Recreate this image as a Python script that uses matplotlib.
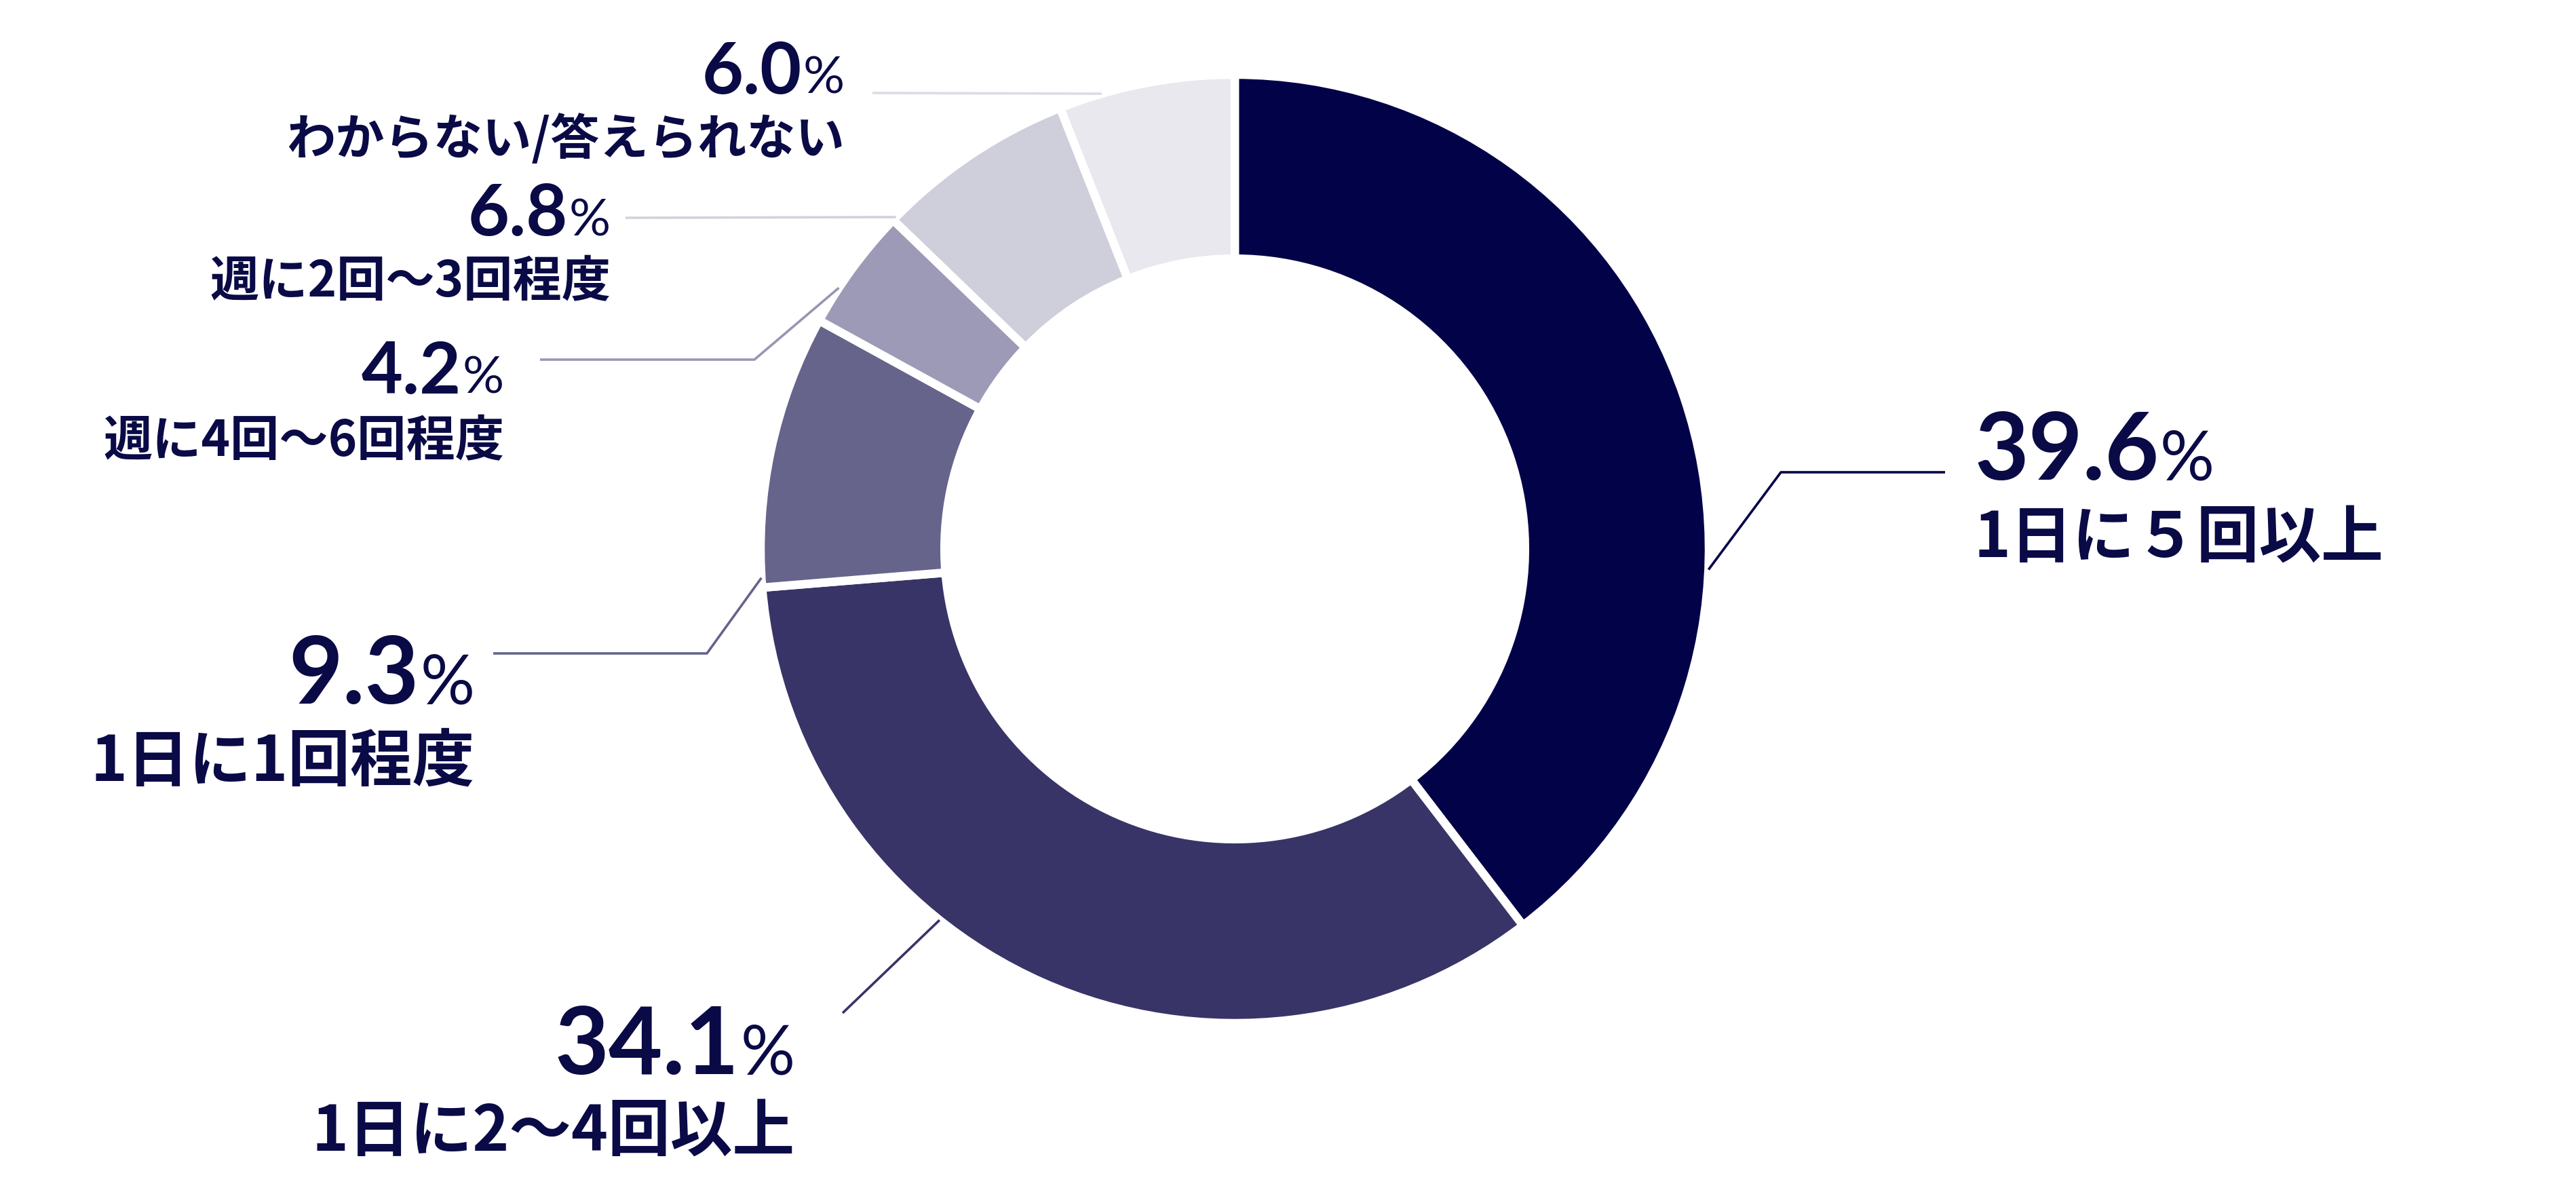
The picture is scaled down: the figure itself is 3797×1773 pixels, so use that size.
import numpy as np
import matplotlib
matplotlib.use('Agg')
import matplotlib.pyplot as plt

# data
categories = ['1日に５回以上', '1日に2～4回以上', '1日に1回程度',
              '週に4回～6回程度', '週に2回～3回程度', 'わからない/答えられない']
shares = [39.6, 34.1, 9.3, 4.2, 6.8, 6.0]
colors = ['#020248', '#383467', '#66648b', '#9c9ab6', '#cfcedb', '#e8e8ee']
line_colors = ['#020248', '#383467', '#66648b', '#9896b3', '#d2d2dd', '#dcdce4']

W, H = 3798, 1773
CX, CY, R = 1820, 809, 699   # pixels, y from top
TXT = '#0a0a46'
JP = ['Noto Sans CJK JP', 'DejaVu Sans']
NUM = ['Lato', 'DejaVu Sans']

# label layout: text x, number baseline, label baseline, align, big?, leader
# leader: (angle on ring, radius fraction) then extra points (x, y from top)
layout = [
    dict(x=2910, yn=707, yl=821, align='left', big=True,
         start=(-2.5, 1.0), pts=[(2625, 696), (2867, 696)]),
    dict(x=1172, yn=1583, yl=1696, align='right', big=True,
         start=(-128.5, 1.0), pts=[(1242, 1493)]),
    dict(x=700, yn=1037, yl=1151, align='right', big=True,
         start=(183.5, 1.0), pts=[(1042, 963), (727, 963)]),
    dict(x=743, yn=580, yl=672, align='right', big=False,
         start=(146.6, 1.0), pts=[(1112, 530), (796, 530)]),
    dict(x=900, yn=347, yl=437, align='right', big=False,
         start=(135.6, 1.0), pts=[(922, 321)]),
    dict(x=1245, yn=138, yl=228, align='right', big=False,
         start=(106.3, 1.0), pts=[(1286, 137)]),
]

fig = plt.figure(figsize=(W / 100, H / 100), dpi=100)
ax = fig.add_axes([0, 0, 1, 1])

ax.pie(shares, colors=colors, startangle=90, counterclock=False,
       radius=R, center=(CX, H - CY), frame=False,
       wedgeprops=dict(width=R * 0.388, edgecolor='white', linewidth=9))
ax.set_xlim(0, W)
ax.set_ylim(0, H)
ax.set_aspect('equal')
ax.axis('off')

renderer = fig.canvas.get_renderer()

for val, cat, lc, lay in zip(shares, categories, line_colors, layout):
    # leader line
    a = np.deg2rad(lay['start'][0])
    r = lay['start'][1] * R
    xs = [CX + r * np.cos(a)] + [p[0] for p in lay['pts']]
    ys = [H - CY + r * np.sin(a)] + [H - p[1] for p in lay['pts']]
    ax.plot(xs, ys, color=lc, lw=2.6, solid_capstyle='butt', zorder=3)

    ns, ps, ls = (99, 72, 66) if lay['big'] else (76, 55, 52)
    x, yn, yl = lay['x'], H - lay['yn'], H - lay['yl']
    num = f'{val:.1f}'
    if lay['align'] == 'left':
        t = ax.text(x, yn, num, ha='left', va='baseline', fontsize=ns,
                    fontweight='bold', family=NUM, color=TXT)
        bb = t.get_window_extent(renderer)
        ax.text(bb.x1 + 2, yn, '%', ha='left', va='baseline', fontsize=ps,
                family=NUM, color=TXT)
    else:
        t = ax.text(x, yn, '%', ha='right', va='baseline', fontsize=ps,
                    family=NUM, color=TXT)
        bb = t.get_window_extent(renderer)
        ax.text(bb.x0 - 2, yn, num, ha='right', va='baseline', fontsize=ns,
                fontweight='bold', family=NUM, color=TXT)
    ax.text(x, yl, cat, ha=lay['align'], va='baseline', fontsize=ls,
            fontweight='bold', family=JP, color=TXT)

fig.savefig('out.png', dpi=100, facecolor='white')
